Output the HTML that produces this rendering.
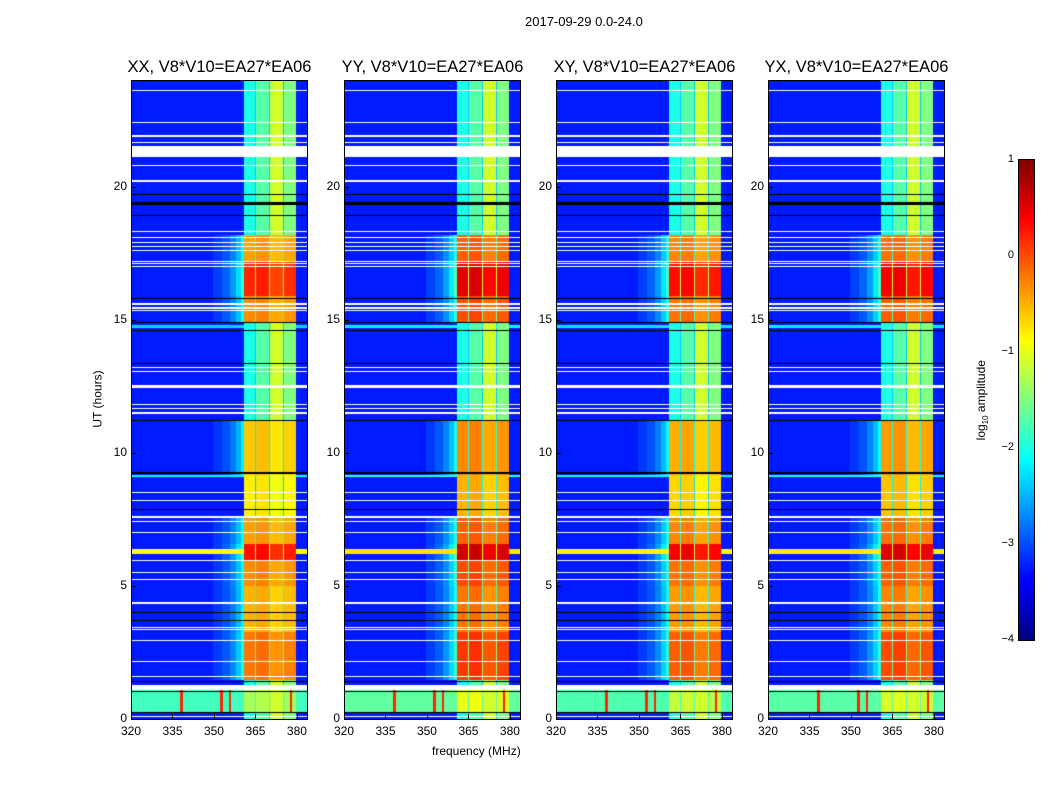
<!DOCTYPE html>
<html><head><meta charset="utf-8">
<style>
body{margin:0;background:#fff;width:1050px;height:800px;position:relative;overflow:hidden;font-family:"Liberation Sans",sans-serif;color:#000}
.t{position:absolute;white-space:nowrap}
canvas{position:absolute}
.frame{position:absolute;border:1px solid #000;box-sizing:border-box}
</style></head><body>
<div class="t" style="left:525px;top:14px;font-size:13px">2017-09-29 0.0-24.0</div>
<div class="t" style="left:432px;top:744px;font-size:12px">frequency (MHz)</div>
<div class="t" style="left:60px;top:392px;font-size:12px;transform:rotate(-90deg);transform-origin:center;width:75px;text-align:center">UT (hours)</div>
<div class="t" style="left:932px;top:392px;font-size:12px;transform:rotate(-90deg);width:100px;text-align:center">log<sub style="font-size:8px">10</sub> amplitude</div>
<div id="root"></div>
<canvas id="cbar" width="15" height="480" style="left:1019px;top:160px"></canvas>
<div class="frame" style="left:1018px;top:159px;width:17px;height:482px"></div>
<script>
// ---- data ----
const panels = ["XX","YY","XY","YX"];
const panelGain = [0, 0.3, 0.12, 0.22];
const freqMin = 320, freqMax = 384, hourMin = 0, hourMax = 24;
const xTicks = [320,335,350,365,380];
const yTicks = [0,5,10,15,20];
const cTicks = [1,0,-1,-2,-3,-4];
const cTickLabels = ["1","0","\u22121","\u22122","\u22123","\u22124"];
// RFI band columns (MHz)
const colStart = [361, 365.5, 370.5, 375.5];
const colEnd   = [365, 370, 375, 380];
const colQuiet = [-2.0, -1.7, -1.1, -1.5];
const colActiveAdj = [0, 0.05, -0.15, -0.05];
const baseLevel = -3.25;
// time segments: band level when active (null = quiet)
const segStart = [0, 0.3, 1.1, 1.5, 3.3, 5.0, 6.0, 6.6, 7.6, 9.2, 11.2, 14.9, 15.9, 17.2, 18.2];
const segEnd   = [0.3, 1.1, 1.5, 3.3, 5.0, 6.0, 6.6, 7.6, 9.2, 11.2, 14.9, 15.9, 17.2, 18.2, 24];
const segBand  = [null, -1.3, null, -0.2, -0.5, -0.3, 0.3, -0.4, -0.8, -0.6, null, -0.3, 0.2, -0.4, null];
// fuzzy edge below the band
const edgeFreq = [350, 353, 356, 358, 360, 361];
const edgeFrac = [0.05, 0.1, 0.18, 0.28, 0.4, 0.5];
// broadband rows
const broadStart = [0.3, 6.2, 9.05, 14.65];
const broadEnd   = [1.1, 6.4, 9.2, 14.8];
const broadLevel = [-1.8, -0.9, -2.1, -2.3];
// spike channels in first hour
const spikeFreq = [338.5, 353, 356, 378];
// flagged (white) and black rows: [hour, px thickness]
const whiteRows = [[23.6,1],[22.4,1],[21.9,2],[21.65,1],[21.3,11],[20.8,1],[20.2,2],[18.3,1],[18.1,1],[17.9,1],[17.75,1],[17.6,1],[17.2,1],[17.1,1],[17.0,1],[15.6,2],[15.45,2],[15.35,1],[13.2,1],[13.05,1],[12.5,3],[11.8,1],[11.65,1],[11.5,2],[8.5,1],[8.2,1],[7.6,2],[7.4,1],[7.0,1],[5.95,1],[5.5,1],[5.25,1],[4.35,2],[3.45,1],[3.35,1],[2.95,1],[2.15,1],[1.6,1],[1.2,5],[0.1,1]];
const blackRows = [[19.7,1],[19.35,3],[18.9,1],[15.8,1],[14.9,1],[14.6,1],[13.35,1],[11.2,1],[9.23,2],[7.85,1],[4.0,1],[3.7,1],[1.4,1],[1.02,1],[0.25,1]];

// ---- helpers ----
function jet(v){
  let t=(v+4)/5; t=Math.max(0,Math.min(1,t));
  const r=Math.max(0,Math.min(1,1.5-Math.abs(4*t-3)));
  const g=Math.max(0,Math.min(1,1.5-Math.abs(4*t-2)));
  const b=Math.max(0,Math.min(1,1.5-Math.abs(4*t-1)));
  return `rgb(${Math.round(r*255)},${Math.round(g*255)},${Math.round(b*255)})`;
}
function segAt(h){for(let i=0;i<segStart.length;i++) if(h>=segStart[i]&&h<segEnd[i]) return i; return -1;}
function edgeAt(f){ if(f<edgeFreq[0]||f>=colStart[0]) return 0;
  for(let i=edgeFreq.length-1;i>=0;i--) if(f>=edgeFreq[i]) return edgeFrac[i]; return 0;}
function value(f,h,gain){
  let v=baseLevel;
  const si=segAt(h); const band=si>=0?segBand[si]:null;
  let inCol=-1; for(let c=0;c<colStart.length;c++) if(f>=colStart[c]&&f<colEnd[c]) inCol=c;
  const inBand=f>=colStart[0]&&f<colEnd[colEnd.length-1];
  if(inCol>=0){ v=colQuiet[inCol]; if(band!==null) v=Math.max(v,band+colActiveAdj[inCol]+gain); }
  else if(inBand){ v=band!==null?Math.max(-2.4,band-1.6+gain):-2.4; }
  else if(band!==null && band>-0.7){ const e=edgeAt(f); v=baseLevel+e*(band+gain-baseLevel); }
  for(let b=0;b<broadStart.length;b++) if(h>=broadStart[b]&&h<broadEnd[b]) v=Math.max(v,broadLevel[b]+gain*0.5);
  if(h>=0.3&&h<1.3) for(const s of spikeFreq) if(Math.abs(f-s)<0.6) v=Math.max(v,0.2);
  return v;
}
const root=document.getElementById('root');
const panelX=[131,344,556,768], pw=177, py=80, ph=639;
panels.forEach((name,pi)=>{
  const x0=panelX[pi];
  const xs=f=>(f-freqMin)/(freqMax-freqMin)*pw;
  const ys=h=>ph-(h-hourMin)/(hourMax-hourMin)*ph;
  const cv=document.createElement('canvas');
  
  
  cv.width=pw;cv.height=ph;cv.style.left=x0+'px';cv.style.top=py+'px';
  root.appendChild(cv);
  const ctx=cv.getContext('2d');
  const df=0.5, dh=0.1;
  for(let h=hourMin;h<hourMax;h+=dh){
    for(let f=freqMin;f<freqMax;f+=df){
      ctx.fillStyle=jet(value(f+df/2,h+dh/2,panelGain[pi]));
      const xa=xs(f),xb=xs(f+df),ya=ys(h+dh),yb=ys(h);
      ctx.fillRect(Math.floor(xa),Math.floor(ya),Math.ceil(xb)-Math.floor(xa),Math.ceil(yb)-Math.floor(ya));
    }
  }
  ctx.fillStyle='#fff';
  whiteRows.forEach(r=>ctx.fillRect(0,Math.round(ys(r[0])-r[1]/2),pw,r[1]));
  ctx.fillStyle='#000';
  blackRows.forEach(r=>ctx.fillRect(0,Math.round(ys(r[0])-r[1]/2),pw,r[1]));
  const fr=document.createElement('div');
  fr.className='frame';
  
  
  fr.style.cssText=`left:${x0}px;top:${py}px;width:${pw}px;height:${ph+1}px`;
  root.appendChild(fr);
  const tt=document.createElement('div');
  tt.className='t';
  
  
  tt.style.cssText=`left:${x0-40}px;width:${pw+80}px;text-align:center;top:58px;font-size:16.5px`;
  tt.textContent=name+', V8*V10=EA27*EA06';
  root.appendChild(tt);
  xTicks.forEach(v=>{
    const l=document.createElement('div');
    l.className='t';
    
    
    l.style.cssText=`left:${x0+xs(v)-20}px;width:40px;text-align:center;top:724px;font-size:12px`;
    l.textContent=v; root.appendChild(l);
    const tk=document.createElement('div');
    
    
    tk.style.cssText=`position:absolute;left:${x0+Math.round(xs(v))}px;top:${py+ph-5}px;width:1px;height:5px;background:#000`;
    root.appendChild(tk);
  });
  yTicks.forEach(v=>{
    const l=document.createElement('div');
    l.className='t';
    
    
    l.style.cssText=`left:${x0-34}px;width:30px;text-align:right;top:${py+ys(v)-8}px;font-size:12px`;
    l.textContent=v; root.appendChild(l);
    const tk=document.createElement('div');
    
    
    tk.style.cssText=`position:absolute;left:${x0}px;top:${py+Math.round(ys(v))}px;width:5px;height:1px;background:#000`;
    root.appendChild(tk);
  });
});
const cb=document.getElementById('cbar').getContext('2d');
for(let y=0;y<480;y++){cb.fillStyle=jet(1-5*y/480);cb.fillRect(0,y,15,1);}
cTicks.forEach((v,i)=>{
  const y=160+(1-v)/5*480;
  const l=document.createElement('div');
  l.className='t';
  
  
  l.style.cssText=`left:984px;width:30px;text-align:right;top:${y-7}px;font-size:11px`;
  l.textContent=cTickLabels[i]; root.appendChild(l);
  const tk=document.createElement('div');
  
  
  tk.style.cssText=`position:absolute;left:1019px;top:${Math.round(y)}px;width:15px;height:1px;border-left:4px solid #000;border-right:4px solid #000;box-sizing:border-box`;
  root.appendChild(tk);
});
</script>
</body></html>
